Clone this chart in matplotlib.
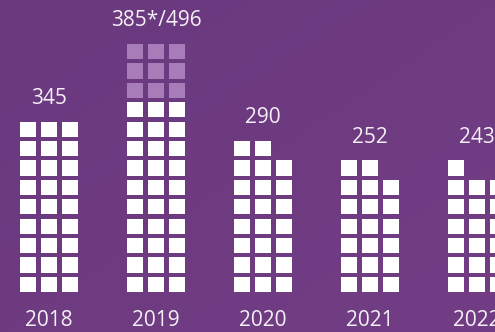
import numpy as np
import matplotlib.pyplot as plt
from matplotlib.patches import Rectangle
from matplotlib.colors import LinearSegmentedColormap

years = ['2018', '2019', '2020', '2021', '2022']
values = [345, 385, 290, 252, 243]
totals = [345, 496, 290, 252, 243]   # 2019 has a second, higher figure
labels = ['345', '385*/496', '290', '252', '243']
unit = 12.75   # cases per square

bg_dark = '#6a397e'
bg_light = '#723d84'
sq_color = 'white'
sq_extra = '#a87cb9'
txt_color = '#f5f0f7'

W, H = 495, 332
sq_w, sq_h = 16, 15.3
gap_x, gap_y = 5, 4.1
first_x, step_x = 49, 107
base_y = 292

fig = plt.figure(figsize=(W / 100, H / 100), dpi=100)
ax = fig.add_axes([0, 0, 1, 1])
ax.set_xlim(0, W)
ax.set_ylim(H, 0)
ax.axis('off')

# soft diagonal background gradient
gx, gy = np.meshgrid(np.linspace(0, 1, 200), np.linspace(0, 1, 140))
grad = (gx + gy) / 2
cmap = LinearSegmentedColormap.from_list('bg', [bg_dark, bg_light])
ax.imshow(grad, cmap=cmap, extent=(0, W, H, 0), aspect='auto', zorder=0)

for k, yr in enumerate(years):
    cx = first_x + k * step_x
    left = cx - (3 * sq_w + 2 * gap_x) / 2
    n_main = int(round(values[k] / unit))
    n_all = int(round(totals[k] / unit))
    for i in range(n_all):
        row, col = divmod(i, 3)
        x = left + col * (sq_w + gap_x)
        y = base_y - sq_h - row * (sq_h + gap_y)
        c = sq_color if i < n_main else sq_extra
        ax.add_patch(Rectangle((x, y), sq_w, sq_h, color=c, lw=0, zorder=2))
    top_row = (n_all - 1) // 3
    top_y = base_y - sq_h - top_row * (sq_h + gap_y)
    ax.text(cx, top_y - 23, labels[k], ha='center', va='center',
            color=txt_color, fontsize=15, family='Open Sans')
    ax.text(cx, 320, yr, ha='center', va='center',
            color=txt_color, fontsize=15, family='Open Sans')

fig.savefig('out.png', dpi=100)
